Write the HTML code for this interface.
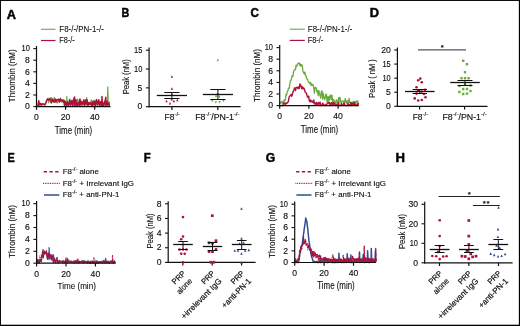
<!DOCTYPE html>
<html lang="en">
<head>
<meta charset="utf-8">
<title>Figure</title>
<style>
html,body{margin:0;padding:0;background:#fff;}
body{width:520px;height:326px;overflow:hidden;position:relative;}
#fig{position:absolute;left:0;top:0;width:520px;height:326px;background:#fff;}
#frame{filter:none;}
svg{position:absolute;left:0;top:0;display:block;}
#plot{filter:blur(0.3px);}
svg text{font-family:"Liberation Sans", sans-serif;stroke:#111;}
</style>
</head>
<body>
<div id="fig"></div>
<svg id="frame" width="520" height="326" viewBox="0 0 520 326">
<rect x="0" y="0" width="520" height="0.95" fill="#000"/>
<rect x="0" y="0" width="0.95" height="326" fill="#000"/>
<rect x="518.85" y="0" width="1.15" height="326" fill="#000"/>
<rect x="0" y="324.7" width="520" height="1.3" fill="#000"/>
</svg>
<svg id="plot" width="520" height="326" viewBox="0 0 520 326">
<text transform="translate(7.10 18.90) scale(1.066 1)" x="-0.24" y="0" font-size="12.0" font-weight="bold" fill="#000" stroke="#000" stroke-width="0.5">A</text>
<text transform="translate(122.20 17.10) scale(0.901 1)" x="-0.72" y="0" font-size="12.0" font-weight="bold" fill="#000" stroke="#000" stroke-width="0.5">B</text>
<text transform="translate(250.90 17.20) scale(0.972 1)" x="-0.48" y="0" font-size="12.0" font-weight="bold" fill="#000" stroke="#000" stroke-width="0.5">C</text>
<text transform="translate(370.60 17.10) scale(1.071 1)" x="-0.72" y="0" font-size="12.0" font-weight="bold" fill="#000" stroke="#000" stroke-width="0.5">D</text>
<text transform="translate(8.10 161.50) scale(0.906 1)" x="-0.72" y="0" font-size="12.0" font-weight="bold" fill="#000" stroke="#000" stroke-width="0.5">E</text>
<text transform="translate(144.30 161.50) scale(0.946 1)" x="-0.72" y="0" font-size="12.0" font-weight="bold" fill="#000" stroke="#000" stroke-width="0.5">F</text>
<text transform="translate(266.10 161.60) scale(1.017 1)" x="-0.48" y="0" font-size="12.0" font-weight="bold" fill="#000" stroke="#000" stroke-width="0.5">G</text>
<text transform="translate(396.30 161.50) scale(1.097 1)" x="-0.72" y="0" font-size="12.0" font-weight="bold" fill="#000" stroke="#000" stroke-width="0.5">H</text>
<polyline points="36.5,106.3 38.0,106.0 38.7,100.8 39.4,104.9 40.0,105.2 40.6,103.7 41.2,103.9 41.7,104.9 42.3,104.4 42.9,104.5 43.5,104.1 44.1,103.8 44.6,105.2 45.2,105.4 46.4,101.4 47.4,99.1 48.1,98.2 48.8,103.0 49.4,98.7 50.1,98.0 50.8,102.7 51.4,98.2 51.8,97.6 52.1,100.8 52.7,101.5 53.4,100.1 54.0,100.9 54.4,97.3 54.7,101.0 55.3,102.0 56.0,100.0 56.7,101.3 57.3,103.2 58.0,99.6 58.6,98.9 59.3,99.4 59.9,101.3 60.6,99.3 61.2,100.7 61.9,102.4 62.5,99.8 63.2,102.1 63.9,100.3 64.5,105.6 65.5,101.0 66.6,105.2 66.8,96.7 67.2,104.9 67.5,101.1 68.3,106.5 69.4,99.0 70.4,105.6 71.2,101.0 72.4,104.6 73.4,99.5 74.3,105.3 75.4,100.7 76.4,105.9 77.4,99.1 78.2,104.6 79.3,99.4 80.4,104.5 81.4,100.8 82.3,106.5 83.4,100.7 84.3,105.3 85.3,101.6 86.2,105.2 86.6,97.6 87.0,104.3 87.2,100.6 88.2,106.5 89.1,102.4 90.1,104.4 91.2,99.8 92.3,105.9 93.4,100.3 94.2,106.6 95.0,100.0 95.9,106.3 96.4,100.2 96.9,101.7 97.8,106.2 98.8,102.4 99.7,104.7 100.6,101.8 101.6,106.5 102.5,101.4 103.4,106.3 104.5,101.0 105.4,105.0 106.5,103.0 107.3,106.2 107.4,103.1 107.8,86.9 108.2,103.7 108.4,102.5 109.4,104.8 109.5,101.4" fill="none" stroke="#6aaa3c" stroke-width="1.2" stroke-linejoin="round" />
<polyline points="36.5,106.3 38.0,106.0 38.7,100.8 39.4,104.9 40.0,103.5 40.6,103.5 41.2,105.3 41.7,105.3 42.3,103.7 42.9,103.9 43.5,104.1 44.1,104.8 44.6,104.2 45.2,104.2 46.4,101.4 47.4,99.1 48.1,99.6 48.8,100.2 49.4,99.3 50.1,98.6 50.8,100.4 51.4,102.9 52.1,101.0 52.7,99.1 53.4,100.3 54.0,102.2 54.7,101.9 55.3,99.0 56.0,101.9 56.7,99.8 57.3,99.5 58.0,100.0 58.6,99.4 59.3,102.3 59.9,100.4 60.5,98.5 60.6,101.1 61.2,99.8 61.9,100.2 62.5,100.1 63.2,101.7 63.9,100.1 64.5,105.3 65.4,101.6 66.4,106.2 67.6,101.9 68.7,105.8 69.9,99.8 70.8,105.2 71.9,100.4 72.8,106.1 73.8,98.7 74.6,97.0 74.8,106.4 75.1,105.4 75.9,99.7 77.0,106.1 78.1,102.8 79.1,105.9 80.0,99.0 80.9,105.2 82.0,102.0 82.9,104.3 83.8,99.8 84.6,105.7 85.5,100.0 86.3,104.1 87.1,99.7 87.9,105.9 89.0,102.4 89.9,104.8 90.8,102.9 92.0,106.2 92.8,101.5 93.8,104.7 94.7,101.5 95.5,105.4 96.6,99.6 97.7,104.6 98.8,99.8 99.8,106.0 100.8,101.6 101.7,105.4 102.0,96.4 102.4,105.4 102.8,102.5 103.8,105.6 104.8,102.4 105.8,97.3 105.9,105.9 106.2,104.9 106.9,101.1 107.7,105.1 108.6,102.9 109.4,106.2" fill="none" stroke="#ad1038" stroke-width="1.45" stroke-linejoin="round" />
<line x1="36.50" y1="46.00" x2="36.50" y2="107.20" stroke="#111" stroke-width="1.2" />
<line x1="35.90" y1="106.60" x2="110.50" y2="106.60" stroke="#111" stroke-width="1.2" />
<line x1="33.30" y1="106.60" x2="36.50" y2="106.60" stroke="#111" stroke-width="1.0999999999999999" />
<text x="29.80" y="109.30" font-size="8.6" text-anchor="end" stroke-width="0.15" fill="#111" >0</text>
<line x1="33.30" y1="95.00" x2="36.50" y2="95.00" stroke="#111" stroke-width="1.0999999999999999" />
<text x="29.80" y="97.70" font-size="8.6" text-anchor="end" stroke-width="0.15" fill="#111" >2</text>
<line x1="33.30" y1="83.40" x2="36.50" y2="83.40" stroke="#111" stroke-width="1.0999999999999999" />
<text x="29.80" y="86.10" font-size="8.6" text-anchor="end" stroke-width="0.15" fill="#111" >4</text>
<line x1="33.30" y1="71.80" x2="36.50" y2="71.80" stroke="#111" stroke-width="1.0999999999999999" />
<text x="29.80" y="74.50" font-size="8.6" text-anchor="end" stroke-width="0.15" fill="#111" >6</text>
<line x1="33.30" y1="60.20" x2="36.50" y2="60.20" stroke="#111" stroke-width="1.0999999999999999" />
<text x="29.80" y="62.90" font-size="8.6" text-anchor="end" stroke-width="0.15" fill="#111" >8</text>
<line x1="33.30" y1="48.60" x2="36.50" y2="48.60" stroke="#111" stroke-width="1.0999999999999999" />
<text x="29.80" y="51.30" font-size="8.6" text-anchor="end" stroke-width="0.15" textLength="8.30" lengthAdjust="spacingAndGlyphs" fill="#111" >10</text>
<line x1="36.50" y1="106.60" x2="36.50" y2="109.80" stroke="#111" stroke-width="1.2" />
<text x="36.50" y="119.80" font-size="8.6" text-anchor="middle" stroke-width="0.15" fill="#111" >0</text>
<line x1="65.60" y1="106.60" x2="65.60" y2="109.80" stroke="#111" stroke-width="1.2" />
<text x="65.60" y="119.80" font-size="8.6" text-anchor="middle" stroke-width="0.15" fill="#111" >20</text>
<line x1="94.70" y1="106.60" x2="94.70" y2="109.80" stroke="#111" stroke-width="1.2" />
<text x="94.70" y="119.80" font-size="8.6" text-anchor="middle" stroke-width="0.15" fill="#111" >40</text>
<text x="73.50" y="133.50" font-size="10.0" text-anchor="middle" stroke-width="0.12" textLength="37.50" lengthAdjust="spacingAndGlyphs" fill="#111" >Time (min)</text>
<text x="15.30" y="75.80" font-size="9.5" text-anchor="middle" stroke-width="0.12" textLength="53.00" lengthAdjust="spacingAndGlyphs" transform="rotate(-90 15.30 75.80)" fill="#111" >Thrombin (nM)</text>
<line x1="41.00" y1="29.30" x2="55.50" y2="29.30" stroke="#6aaa3c" stroke-width="1.1" />
<text x="59.30" y="31.60" font-size="8.3" text-anchor="start" stroke-width="0.08" textLength="44.50" lengthAdjust="spacingAndGlyphs" fill="#111" >F8-/-/PN-1-/-</text>
<line x1="41.00" y1="40.50" x2="55.50" y2="40.50" stroke="#ad1038" stroke-width="1.2" />
<text x="59.30" y="42.80" font-size="8.3" text-anchor="start" stroke-width="0.08" textLength="15.50" lengthAdjust="spacingAndGlyphs" fill="#111" >F8-/-</text>
<line x1="149.10" y1="47.60" x2="149.10" y2="107.30" stroke="#111" stroke-width="1.2" />
<line x1="148.50" y1="106.70" x2="240.60" y2="106.70" stroke="#111" stroke-width="1.2" />
<line x1="145.90" y1="106.70" x2="149.10" y2="106.70" stroke="#111" stroke-width="1.0999999999999999" />
<text x="142.40" y="109.40" font-size="8.6" text-anchor="end" stroke-width="0.15" fill="#111" >0</text>
<line x1="145.90" y1="87.87" x2="149.10" y2="87.87" stroke="#111" stroke-width="1.0999999999999999" />
<text x="142.40" y="90.56" font-size="8.6" text-anchor="end" stroke-width="0.15" fill="#111" >5</text>
<line x1="145.90" y1="69.03" x2="149.10" y2="69.03" stroke="#111" stroke-width="1.0999999999999999" />
<text x="142.40" y="71.73" font-size="8.6" text-anchor="end" stroke-width="0.15" textLength="8.30" lengthAdjust="spacingAndGlyphs" fill="#111" >10</text>
<line x1="145.90" y1="50.20" x2="149.10" y2="50.20" stroke="#111" stroke-width="1.0999999999999999" />
<text x="142.40" y="52.90" font-size="8.6" text-anchor="end" stroke-width="0.15" textLength="8.30" lengthAdjust="spacingAndGlyphs" fill="#111" >15</text>
<line x1="171.90" y1="106.70" x2="171.90" y2="109.90" stroke="#111" stroke-width="1.2" />
<line x1="217.80" y1="106.70" x2="217.80" y2="109.90" stroke="#111" stroke-width="1.2" />
<text x="129.50" y="76.80" font-size="9.5" text-anchor="middle" stroke-width="0.12" textLength="35.00" lengthAdjust="spacingAndGlyphs" transform="rotate(-90 129.50 76.80)" fill="#111" >Peak (nM)</text>
<polygon points="171.90,75.20 170.65,77.70 173.15,77.70" fill="#ad1038"/>
<polygon points="171.90,87.30 170.65,89.80 173.15,89.80" fill="#ad1038"/>
<polygon points="171.90,93.30 170.65,95.80 173.15,95.80" fill="#ad1038"/>
<polygon points="166.50,99.80 165.25,102.30 167.75,102.30" fill="#ad1038"/>
<polygon points="173.80,99.80 172.55,102.30 175.05,102.30" fill="#ad1038"/>
<polygon points="177.30,98.70 176.05,101.20 178.55,101.20" fill="#ad1038"/>
<polygon points="170.00,102.10 168.75,104.60 171.25,104.60" fill="#ad1038"/>
<polygon points="171.70,98.10 170.45,100.60 172.95,100.60" fill="#ad1038"/>
<polygon points="217.80,62.10 216.55,59.60 219.05,59.60" fill="#6aaa3c"/>
<polygon points="217.70,95.50 216.45,93.00 218.95,93.00" fill="#6aaa3c"/>
<polygon points="216.00,98.00 214.75,95.50 217.25,95.50" fill="#6aaa3c"/>
<polygon points="219.30,98.20 218.05,95.70 220.55,95.70" fill="#6aaa3c"/>
<polygon points="212.30,102.30 211.05,99.80 213.55,99.80" fill="#6aaa3c"/>
<polygon points="215.80,103.80 214.55,101.30 217.05,101.30" fill="#6aaa3c"/>
<polygon points="219.60,103.40 218.35,100.90 220.85,100.90" fill="#6aaa3c"/>
<polygon points="223.50,102.30 222.25,99.80 224.75,99.80" fill="#6aaa3c"/>
<line x1="156.80" y1="95.50" x2="187.00" y2="95.50" stroke="#111" stroke-width="1.3" />
<line x1="164.30" y1="92.50" x2="179.50" y2="92.50" stroke="#111" stroke-width="1.0" />
<line x1="164.30" y1="98.50" x2="179.50" y2="98.50" stroke="#111" stroke-width="1.0" />
<line x1="171.90" y1="92.50" x2="171.90" y2="98.50" stroke="#111" stroke-width="1.0" />
<line x1="202.80" y1="94.50" x2="233.00" y2="94.50" stroke="#111" stroke-width="1.3" />
<line x1="210.30" y1="89.50" x2="225.50" y2="89.50" stroke="#111" stroke-width="1.0" />
<line x1="210.30" y1="99.50" x2="225.50" y2="99.50" stroke="#111" stroke-width="1.0" />
<line x1="217.90" y1="89.50" x2="217.90" y2="99.50" stroke="#111" stroke-width="1.0" />
<text x="172.30" y="119.50" font-size="8.5" text-anchor="middle" stroke-width="0.15" textLength="15.40" lengthAdjust="spacingAndGlyphs" fill="#111" ><tspan>F8</tspan><tspan font-size="5.95" dy="-3.40">-/-</tspan></text>
<text x="217.40" y="119.50" font-size="8.5" text-anchor="middle" stroke-width="0.15" textLength="44.40" lengthAdjust="spacingAndGlyphs" fill="#111" ><tspan>F8</tspan><tspan font-size="5.95" dy="-3.40">-/-</tspan><tspan dy="3.40">/PN-1</tspan><tspan font-size="5.95" dy="-3.40">-/-</tspan></text>
<polyline points="279.7,103.9 280.3,102.3 281.0,103.0 281.6,101.7 282.2,101.4 282.9,103.9 283.5,104.0 284.1,99.9 284.7,101.0 285.4,99.6 286.0,94.5 286.6,95.1 287.3,91.4 287.9,91.0 288.5,88.1 289.2,88.3 289.8,84.0 290.4,80.8 291.1,80.4 291.7,77.3 292.3,75.6 292.9,76.5 293.6,71.3 294.2,70.1 294.8,69.4 295.5,69.6 296.1,65.1 296.7,66.3 297.4,64.6 298.0,63.2 298.6,63.5 299.3,62.9 299.9,65.7 300.5,64.1 301.1,66.2 301.8,64.6 302.4,66.4 303.0,71.5 303.7,72.8 304.3,74.0 304.9,72.0 305.6,75.8 306.2,76.1 306.8,78.9 307.5,79.2 308.1,81.0 308.7,82.5 309.3,82.5 310.0,83.9 310.6,82.5 311.2,85.6 311.9,84.0 312.5,85.3 313.1,84.7 313.8,88.1 314.4,93.1 315.0,87.6 315.7,87.3 316.3,88.4 316.9,91.8 317.5,90.9 318.2,95.6 318.8,90.5 319.4,93.1 320.1,95.9 320.7,98.2 321.3,91.7 322.0,90.8 322.6,99.0 323.2,93.1 323.9,96.9 324.5,99.5 325.1,98.5 325.7,94.7 326.4,94.1 327.0,101.6 327.6,96.9 328.3,102.1 328.9,96.5 329.5,100.1 330.2,95.6 330.8,95.0 331.4,99.4 332.0,95.4 332.7,101.7 333.3,103.9 333.9,99.4 334.6,104.5 335.2,103.2 335.8,101.4 336.5,99.8 337.1,103.9 337.7,105.0 338.4,97.9 339.0,102.8 339.6,97.4 340.2,98.0 340.9,102.6 341.5,102.0 342.1,101.6 342.8,100.7 343.4,101.2 344.0,101.6 344.7,101.2 345.3,98.6 345.9,102.4 346.6,103.0 347.2,100.5 347.8,104.7 348.4,104.2 349.1,98.3 349.7,102.3 350.3,102.1 351.0,105.6 351.6,103.3 352.2,101.9 352.9,105.6 353.5,101.6 354.1,101.5 354.8,105.6 355.4,101.5 356.0,102.9 356.6,101.1 357.3,104.0 357.9,100.9 358.5,100.6" fill="none" stroke="#6aaa3c" stroke-width="1.3" stroke-linejoin="round" />
<polyline points="279.7,105.6 280.3,105.6 281.0,105.6 281.6,105.6 282.2,105.6 282.9,105.6 283.5,103.1 284.1,103.6 284.7,103.1 285.4,105.0 286.0,102.9 286.6,103.4 287.3,103.0 287.9,102.3 288.5,100.9 289.2,96.7 289.8,96.2 290.4,95.4 291.1,94.5 291.7,96.3 292.3,94.7 292.9,92.2 293.6,90.6 294.2,89.0 294.8,87.8 295.5,90.6 296.1,87.8 296.7,87.1 297.4,87.5 298.0,88.7 298.6,86.9 299.3,88.3 299.9,84.0 300.5,84.6 301.1,86.8 301.8,88.7 302.4,86.6 303.0,88.8 303.7,88.1 304.3,89.0 304.9,91.3 305.6,92.6 306.2,92.8 306.8,94.7 307.5,97.0 308.1,97.4 308.7,96.1 309.3,100.8 310.0,101.8 310.6,99.9 311.2,101.9 311.9,101.0 312.5,101.6 313.1,102.6 313.8,99.9 314.4,103.9 315.0,103.2 315.7,104.4 316.3,102.5 316.9,104.3 317.5,104.1 318.2,102.5 318.8,104.3 319.4,103.5 320.1,102.2 320.7,105.6 321.3,105.6 322.0,105.3 322.6,103.2 323.2,103.9 323.9,105.5 324.5,105.1 325.1,105.6 325.7,104.6 326.4,105.6 327.0,103.6 327.6,102.8 328.3,102.6 328.9,103.5 329.5,102.6 330.2,105.6 330.8,105.3 331.4,102.5 332.0,103.3 332.7,104.8 333.3,102.6 333.9,104.0 334.6,103.1 335.2,105.3 335.8,105.6 336.5,104.7 337.1,105.6 337.7,104.9 338.4,102.6 339.0,105.1 339.6,105.6 340.2,105.6 340.9,105.6 341.5,103.3 342.1,105.0 342.8,105.3 343.4,105.6 344.0,102.5 344.7,104.7 345.3,105.6 345.9,105.6 346.6,105.6 347.2,105.6 347.8,103.7 348.4,105.6 349.1,105.6 349.7,104.5 350.3,105.5 351.0,102.4 351.6,105.6 352.2,104.3 352.9,103.3 353.5,104.8 354.1,102.5 354.8,104.5 355.4,105.5 356.0,104.8 356.6,105.6 357.3,104.8 357.9,105.5 358.5,102.9" fill="none" stroke="#ad1038" stroke-width="1.4" stroke-linejoin="round" />
<line x1="279.70" y1="45.00" x2="279.70" y2="106.20" stroke="#111" stroke-width="1.2" />
<line x1="279.10" y1="105.60" x2="358.60" y2="105.60" stroke="#111" stroke-width="1.2" />
<line x1="276.50" y1="105.60" x2="279.70" y2="105.60" stroke="#111" stroke-width="1.0999999999999999" />
<text x="273.00" y="108.30" font-size="8.6" text-anchor="end" stroke-width="0.15" fill="#111" >0</text>
<line x1="276.50" y1="94.00" x2="279.70" y2="94.00" stroke="#111" stroke-width="1.0999999999999999" />
<text x="273.00" y="96.70" font-size="8.6" text-anchor="end" stroke-width="0.15" fill="#111" >2</text>
<line x1="276.50" y1="82.40" x2="279.70" y2="82.40" stroke="#111" stroke-width="1.0999999999999999" />
<text x="273.00" y="85.10" font-size="8.6" text-anchor="end" stroke-width="0.15" fill="#111" >4</text>
<line x1="276.50" y1="70.80" x2="279.70" y2="70.80" stroke="#111" stroke-width="1.0999999999999999" />
<text x="273.00" y="73.50" font-size="8.6" text-anchor="end" stroke-width="0.15" fill="#111" >6</text>
<line x1="276.50" y1="59.20" x2="279.70" y2="59.20" stroke="#111" stroke-width="1.0999999999999999" />
<text x="273.00" y="61.90" font-size="8.6" text-anchor="end" stroke-width="0.15" fill="#111" >8</text>
<line x1="276.50" y1="47.60" x2="279.70" y2="47.60" stroke="#111" stroke-width="1.0999999999999999" />
<text x="273.00" y="50.30" font-size="8.6" text-anchor="end" stroke-width="0.15" textLength="8.30" lengthAdjust="spacingAndGlyphs" fill="#111" >10</text>
<line x1="279.70" y1="105.60" x2="279.70" y2="108.80" stroke="#111" stroke-width="1.2" />
<text x="279.70" y="119.00" font-size="8.6" text-anchor="middle" stroke-width="0.15" fill="#111" >0</text>
<line x1="308.90" y1="105.60" x2="308.90" y2="108.80" stroke="#111" stroke-width="1.2" />
<text x="308.90" y="119.00" font-size="8.6" text-anchor="middle" stroke-width="0.15" fill="#111" >20</text>
<line x1="338.10" y1="105.60" x2="338.10" y2="108.80" stroke="#111" stroke-width="1.2" />
<text x="338.10" y="119.00" font-size="8.6" text-anchor="middle" stroke-width="0.15" fill="#111" >40</text>
<text x="319.50" y="133.20" font-size="10.0" text-anchor="middle" stroke-width="0.12" textLength="37.50" lengthAdjust="spacingAndGlyphs" fill="#111" >Time (min)</text>
<text x="260.00" y="75.50" font-size="9.5" text-anchor="middle" stroke-width="0.12" textLength="53.00" lengthAdjust="spacingAndGlyphs" transform="rotate(-90 260.00 75.50)" fill="#111" >Thrombin (nM)</text>
<line x1="289.70" y1="29.20" x2="304.80" y2="29.20" stroke="#6aaa3c" stroke-width="1.1" />
<text x="307.80" y="31.50" font-size="8.3" text-anchor="start" stroke-width="0.08" textLength="44.50" lengthAdjust="spacingAndGlyphs" fill="#111" >F8-/-/PN-1-/-</text>
<line x1="289.70" y1="40.40" x2="304.80" y2="40.40" stroke="#ad1038" stroke-width="1.2" />
<text x="307.80" y="42.80" font-size="8.3" text-anchor="start" stroke-width="0.08" textLength="15.50" lengthAdjust="spacingAndGlyphs" fill="#111" >F8-/-</text>
<line x1="397.40" y1="47.40" x2="397.40" y2="106.90" stroke="#111" stroke-width="1.2" />
<line x1="396.80" y1="106.30" x2="487.50" y2="106.30" stroke="#111" stroke-width="1.2" />
<line x1="394.20" y1="106.30" x2="397.40" y2="106.30" stroke="#111" stroke-width="1.0999999999999999" />
<text x="390.70" y="109.00" font-size="8.6" text-anchor="end" stroke-width="0.15" fill="#111" >0</text>
<line x1="394.20" y1="92.22" x2="397.40" y2="92.22" stroke="#111" stroke-width="1.0999999999999999" />
<text x="390.70" y="94.92" font-size="8.6" text-anchor="end" stroke-width="0.15" fill="#111" >5</text>
<line x1="394.20" y1="78.15" x2="397.40" y2="78.15" stroke="#111" stroke-width="1.0999999999999999" />
<text x="390.70" y="80.85" font-size="8.6" text-anchor="end" stroke-width="0.15" textLength="8.30" lengthAdjust="spacingAndGlyphs" fill="#111" >10</text>
<line x1="394.20" y1="64.08" x2="397.40" y2="64.08" stroke="#111" stroke-width="1.0999999999999999" />
<text x="390.70" y="66.77" font-size="8.6" text-anchor="end" stroke-width="0.15" textLength="8.30" lengthAdjust="spacingAndGlyphs" fill="#111" >15</text>
<line x1="394.20" y1="50.00" x2="397.40" y2="50.00" stroke="#111" stroke-width="1.0999999999999999" />
<text x="390.70" y="52.70" font-size="8.6" text-anchor="end" stroke-width="0.15" fill="#111" >20</text>
<line x1="419.60" y1="106.30" x2="419.60" y2="109.50" stroke="#111" stroke-width="1.2" />
<line x1="464.60" y1="106.30" x2="464.60" y2="109.50" stroke="#111" stroke-width="1.2" />
<text x="375.30" y="78.50" font-size="9.5" text-anchor="middle" stroke-width="0.12" textLength="38.50" lengthAdjust="spacingAndGlyphs" transform="rotate(-90 375.30 78.50)" fill="#111" >Peak ( nM )</text>
<circle cx="420.30" cy="78.60" r="1.3" fill="#ad1038"/>
<circle cx="418.20" cy="80.30" r="1.3" fill="#ad1038"/>
<circle cx="421.80" cy="82.30" r="1.3" fill="#ad1038"/>
<circle cx="416.50" cy="87.20" r="1.3" fill="#ad1038"/>
<circle cx="425.00" cy="89.80" r="1.3" fill="#ad1038"/>
<circle cx="418.20" cy="90.40" r="1.3" fill="#ad1038"/>
<circle cx="421.80" cy="91.50" r="1.3" fill="#ad1038"/>
<circle cx="416.50" cy="93.60" r="1.3" fill="#ad1038"/>
<circle cx="424.00" cy="94.00" r="1.3" fill="#ad1038"/>
<circle cx="414.70" cy="98.40" r="1.3" fill="#ad1038"/>
<circle cx="425.50" cy="97.30" r="1.3" fill="#ad1038"/>
<circle cx="418.20" cy="100.50" r="1.3" fill="#ad1038"/>
<circle cx="421.80" cy="100.00" r="1.3" fill="#ad1038"/>
<rect x="462.00" y="59.60" width="2.4" height="2.4" fill="#6aaa3c"/>
<rect x="465.70" y="63.00" width="2.4" height="2.4" fill="#6aaa3c"/>
<rect x="463.80" y="71.00" width="2.4" height="2.4" fill="#6aaa3c"/>
<rect x="460.30" y="77.00" width="2.4" height="2.4" fill="#6aaa3c"/>
<rect x="463.80" y="77.00" width="2.4" height="2.4" fill="#6aaa3c"/>
<rect x="467.40" y="77.00" width="2.4" height="2.4" fill="#6aaa3c"/>
<rect x="463.80" y="83.40" width="2.4" height="2.4" fill="#6aaa3c"/>
<rect x="469.30" y="84.30" width="2.4" height="2.4" fill="#6aaa3c"/>
<rect x="458.20" y="84.80" width="2.4" height="2.4" fill="#6aaa3c"/>
<rect x="462.00" y="87.80" width="2.4" height="2.4" fill="#6aaa3c"/>
<rect x="465.80" y="87.80" width="2.4" height="2.4" fill="#6aaa3c"/>
<rect x="458.20" y="90.80" width="2.4" height="2.4" fill="#6aaa3c"/>
<rect x="469.30" y="89.80" width="2.4" height="2.4" fill="#6aaa3c"/>
<rect x="462.00" y="92.80" width="2.4" height="2.4" fill="#6aaa3c"/>
<rect x="465.80" y="92.40" width="2.4" height="2.4" fill="#6aaa3c"/>
<line x1="405.00" y1="91.50" x2="434.60" y2="91.50" stroke="#111" stroke-width="1.3" />
<line x1="412.60" y1="89.50" x2="427.00" y2="89.50" stroke="#111" stroke-width="1.0" />
<line x1="412.60" y1="93.50" x2="427.00" y2="93.50" stroke="#111" stroke-width="1.0" />
<line x1="419.80" y1="89.50" x2="419.80" y2="93.50" stroke="#111" stroke-width="1.0" />
<line x1="450.20" y1="82.50" x2="479.80" y2="82.50" stroke="#111" stroke-width="1.3" />
<line x1="457.50" y1="80.50" x2="472.50" y2="80.50" stroke="#111" stroke-width="1.0" />
<line x1="457.50" y1="85.50" x2="472.50" y2="85.50" stroke="#111" stroke-width="1.0" />
<line x1="465.00" y1="80.50" x2="465.00" y2="85.50" stroke="#111" stroke-width="1.0" />
<line x1="418.00" y1="49.90" x2="466.00" y2="49.90" stroke="#555" stroke-width="1.3" />
<text x="442.20" y="50.00" font-size="7.8" text-anchor="middle" stroke-width="0.25" fill="#111" >*</text>
<text x="420.40" y="119.50" font-size="8.5" text-anchor="middle" stroke-width="0.15" textLength="15.40" lengthAdjust="spacingAndGlyphs" fill="#111" ><tspan>F8</tspan><tspan font-size="5.95" dy="-3.40">-/-</tspan></text>
<text x="464.60" y="119.50" font-size="8.5" text-anchor="middle" stroke-width="0.15" textLength="44.40" lengthAdjust="spacingAndGlyphs" fill="#111" ><tspan>F8</tspan><tspan font-size="5.95" dy="-3.40">-/-</tspan><tspan dy="3.40">/PN-1</tspan><tspan font-size="5.95" dy="-3.40">-/-</tspan></text>
<polyline points="36.6,263.2 37.8,259.3 39.1,263.2 40.4,259.9 41.4,261.8 42.5,251.7 43.3,256.4 44.2,251.4 45.2,253.7 46.1,252.5 47.4,258.5 48.2,253.1 48.7,257.8 49.0,259.6 49.1,247.7 49.5,258.4 49.8,257.5 51.1,259.2 51.9,254.7 53.1,260.2 53.2,260.8 53.5,254.9 53.9,260.8 54.5,258.1 55.6,261.8 56.9,258.7 58.2,263.2 59.1,261.1 60.0,262.0 60.7,261.2 61.8,261.8 63.0,261.2 63.9,263.1 64.9,261.2 65.9,262.9 66.7,260.2 67.4,263.0 67.5,258.4 68.6,261.8 69.8,262.4 70.9,261.8 71.7,262.1 73.0,261.5 74.2,263.2 75.5,261.3 76.4,262.7 77.6,261.7 78.8,263.2 80.0,261.8 81.3,262.0 82.3,260.9 83.6,262.5 84.9,261.0 85.8,262.4 86.6,261.8 87.4,263.1 88.7,261.7 89.5,263.2 90.5,261.3 91.4,262.9 92.6,261.2 93.6,262.1 94.9,261.9 95.9,263.2 96.7,260.8 98.0,263.1 99.3,261.8 100.2,262.3 101.5,261.5 102.5,263.2 103.7,260.4 104.7,262.9 105.7,258.4 105.9,261.3 106.8,262.7 107.6,261.4 108.9,263.2 110.0,261.3 111.0,262.2 111.9,260.8 113.1,262.7 114.3,260.8 115.5,263.2" fill="none" stroke="#2f4f8f" stroke-width="1.2" stroke-linejoin="round" />
<polyline points="36.6,263.2 37.9,261.9 39.1,262.3 39.9,255.9 40.8,262.2 41.8,254.8 42.8,256.0 44.1,253.3 44.9,253.8 45.8,251.7 47.1,256.7 47.9,254.8 49.2,257.5 50.3,256.0 51.4,260.1 52.6,256.9 53.7,263.2 54.8,259.8 55.5,263.2 56.6,260.5 57.9,262.7 59.0,260.3 59.9,262.3 61.2,261.5 62.4,261.9 63.5,260.6 64.8,263.2 65.9,261.4 66.7,262.7 67.7,261.7 69.0,262.6 70.2,261.4 71.0,261.8 72.0,261.4 72.9,262.5 74.2,260.3 75.0,262.5 75.8,260.7 77.2,262.2 78.3,261.4 79.1,263.1 80.0,261.6 81.0,262.3 82.0,261.1 82.9,262.9 83.8,261.7 84.6,262.1 85.7,261.3 86.9,262.8 88.0,260.3 88.8,262.0 89.6,261.3 90.7,263.2 91.6,260.3 92.3,263.2 93.2,260.5 93.9,263.2 95.1,260.3 96.2,262.3 97.5,261.3 98.3,263.0 99.3,261.2 100.1,262.2 101.2,261.3 102.0,262.8 103.2,260.8 104.2,262.7 105.1,261.7 106.0,262.8 106.8,260.9 107.9,263.1 108.6,261.5 109.6,262.2 111.0,260.8 112.0,263.2 112.8,261.7 113.9,263.2 115.0,262.1" fill="none" stroke="#ad1038" stroke-width="1.1" stroke-linejoin="round" stroke-dasharray="0.9 0.9"/>
<polyline points="36.6,263.2 37.8,260.3 38.7,262.3 39.8,258.6 41.0,260.4 42.2,254.7 42.6,257.2 43.1,248.6 43.4,257.8 43.5,256.1 44.4,251.1 45.6,254.6 46.6,250.5 47.5,259.3 48.6,252.8 49.6,257.8 50.8,254.3 51.8,259.2 52.6,256.2 53.5,263.2 54.6,259.5 55.7,262.7 57.0,257.3 58.1,262.8 59.2,260.4 60.5,261.8 61.5,260.7 62.4,262.7 63.2,260.3 64.2,262.0 65.3,261.3 66.0,257.8 66.2,262.6 67.0,261.4 68.2,263.0 69.0,260.5 69.7,262.4 71.0,260.8 71.9,262.4 72.9,261.6 74.2,261.9 75.2,260.6 76.1,263.2 77.0,260.2 77.8,258.4 78.3,263.0 79.6,261.1 80.8,263.2 81.8,261.1 83.0,262.6 83.8,260.7 84.6,262.7 85.8,261.6 86.6,262.1 87.7,261.3 88.5,262.7 89.8,261.5 90.8,263.2 91.9,261.5 92.9,262.8 93.7,261.3 93.9,257.8 94.6,263.2 95.6,260.9 96.9,263.2 97.8,261.0 98.7,262.7 99.8,260.7 101.1,262.5 101.8,261.3 102.5,262.1 103.7,261.9 104.9,262.7 106.2,260.6 107.0,262.4 108.3,261.1 109.3,263.2 110.5,261.3 111.5,262.3 112.0,261.4 112.4,261.9 112.5,255.5 112.9,262.0 113.5,263.1 114.3,261.1 115.1,262.3" fill="none" stroke="#ad1038" stroke-width="1.2" stroke-linejoin="round" stroke-dasharray="3.3 1.6"/>
<line x1="36.60" y1="201.10" x2="36.60" y2="263.80" stroke="#111" stroke-width="1.2" />
<line x1="36.00" y1="263.20" x2="115.60" y2="263.20" stroke="#111" stroke-width="1.2" />
<line x1="33.40" y1="263.20" x2="36.60" y2="263.20" stroke="#111" stroke-width="1.0999999999999999" />
<text x="29.90" y="265.90" font-size="8.6" text-anchor="end" stroke-width="0.15" fill="#111" >0</text>
<line x1="33.40" y1="251.30" x2="36.60" y2="251.30" stroke="#111" stroke-width="1.0999999999999999" />
<text x="29.90" y="254.00" font-size="8.6" text-anchor="end" stroke-width="0.15" fill="#111" >2</text>
<line x1="33.40" y1="239.40" x2="36.60" y2="239.40" stroke="#111" stroke-width="1.0999999999999999" />
<text x="29.90" y="242.10" font-size="8.6" text-anchor="end" stroke-width="0.15" fill="#111" >4</text>
<line x1="33.40" y1="227.50" x2="36.60" y2="227.50" stroke="#111" stroke-width="1.0999999999999999" />
<text x="29.90" y="230.20" font-size="8.6" text-anchor="end" stroke-width="0.15" fill="#111" >6</text>
<line x1="33.40" y1="215.60" x2="36.60" y2="215.60" stroke="#111" stroke-width="1.0999999999999999" />
<text x="29.90" y="218.30" font-size="8.6" text-anchor="end" stroke-width="0.15" fill="#111" >8</text>
<line x1="33.40" y1="203.70" x2="36.60" y2="203.70" stroke="#111" stroke-width="1.0999999999999999" />
<text x="29.90" y="206.40" font-size="8.6" text-anchor="end" stroke-width="0.15" textLength="8.30" lengthAdjust="spacingAndGlyphs" fill="#111" >10</text>
<line x1="36.60" y1="263.20" x2="36.60" y2="266.40" stroke="#111" stroke-width="1.2" />
<text x="36.60" y="277.00" font-size="8.6" text-anchor="middle" stroke-width="0.15" fill="#111" >0</text>
<line x1="66.00" y1="263.20" x2="66.00" y2="266.40" stroke="#111" stroke-width="1.2" />
<text x="66.00" y="277.00" font-size="8.6" text-anchor="middle" stroke-width="0.15" fill="#111" >20</text>
<line x1="95.40" y1="263.20" x2="95.40" y2="266.40" stroke="#111" stroke-width="1.2" />
<text x="95.40" y="277.00" font-size="8.6" text-anchor="middle" stroke-width="0.15" fill="#111" >40</text>
<text x="76.70" y="288.80" font-size="8.2" text-anchor="middle" stroke-width="0.1" textLength="38.30" lengthAdjust="spacingAndGlyphs" fill="#111" >Time (min)</text>
<text x="15.30" y="231.50" font-size="9.5" text-anchor="middle" stroke-width="0.12" textLength="53.00" lengthAdjust="spacingAndGlyphs" transform="rotate(-90 15.30 231.50)" fill="#111" >Thrombin (nM)</text>
<line x1="43.70" y1="171.70" x2="58.80" y2="171.70" stroke="#ad1038" stroke-width="1.4" stroke-dasharray="3.3 2.45"/>
<text x="62.80" y="174.10" font-size="7.8" text-anchor="start" stroke-width="0.15" textLength="36.00" lengthAdjust="spacingAndGlyphs" fill="#111" ><tspan>F8</tspan><tspan font-size="5.46" dy="-3.12">-/-</tspan><tspan dy="3.12"> alone</tspan></text>
<line x1="43.10" y1="183.40" x2="60.10" y2="183.40" stroke="#ad1038" stroke-width="1.1" stroke-dasharray="0.9 0.85"/>
<text x="62.80" y="185.90" font-size="7.8" text-anchor="start" stroke-width="0.15" textLength="71.20" lengthAdjust="spacingAndGlyphs" fill="#111" ><tspan>F8</tspan><tspan font-size="5.46" dy="-3.12">-/-</tspan><tspan dy="3.12"> + Irrelevant IgG</tspan></text>
<line x1="44.00" y1="195.00" x2="59.30" y2="195.00" stroke="#2f4f8f" stroke-width="1.5" />
<text x="62.80" y="197.40" font-size="7.8" text-anchor="start" stroke-width="0.15" textLength="56.60" lengthAdjust="spacingAndGlyphs" fill="#111" ><tspan>F8</tspan><tspan font-size="5.46" dy="-3.12">-/-</tspan><tspan dy="3.12"> + anti-PN-1</tspan></text>
<line x1="168.20" y1="201.20" x2="168.20" y2="263.00" stroke="#111" stroke-width="1.2" />
<line x1="167.60" y1="262.40" x2="255.60" y2="262.40" stroke="#111" stroke-width="1.2" />
<line x1="165.00" y1="262.40" x2="168.20" y2="262.40" stroke="#111" stroke-width="1.0999999999999999" />
<text x="161.50" y="265.10" font-size="8.6" text-anchor="end" stroke-width="0.15" fill="#111" >0</text>
<line x1="165.00" y1="247.75" x2="168.20" y2="247.75" stroke="#111" stroke-width="1.0999999999999999" />
<text x="161.50" y="250.45" font-size="8.6" text-anchor="end" stroke-width="0.15" fill="#111" >2</text>
<line x1="165.00" y1="233.10" x2="168.20" y2="233.10" stroke="#111" stroke-width="1.0999999999999999" />
<text x="161.50" y="235.80" font-size="8.6" text-anchor="end" stroke-width="0.15" fill="#111" >4</text>
<line x1="165.00" y1="218.45" x2="168.20" y2="218.45" stroke="#111" stroke-width="1.0999999999999999" />
<text x="161.50" y="221.15" font-size="8.6" text-anchor="end" stroke-width="0.15" fill="#111" >6</text>
<line x1="165.00" y1="203.80" x2="168.20" y2="203.80" stroke="#111" stroke-width="1.0999999999999999" />
<text x="161.50" y="206.50" font-size="8.6" text-anchor="end" stroke-width="0.15" fill="#111" >8</text>
<line x1="182.80" y1="262.40" x2="182.80" y2="265.60" stroke="#111" stroke-width="1.2" />
<line x1="212.20" y1="262.40" x2="212.20" y2="265.60" stroke="#111" stroke-width="1.2" />
<line x1="241.60" y1="262.40" x2="241.60" y2="265.60" stroke="#111" stroke-width="1.2" />
<text x="152.50" y="231.00" font-size="9.5" text-anchor="middle" stroke-width="0.12" textLength="35.00" lengthAdjust="spacingAndGlyphs" transform="rotate(-90 152.50 231.00)" fill="#111" >Peak (nM)</text>
<circle cx="183.00" cy="217.10" r="1.3" fill="#ad1038"/>
<circle cx="183.00" cy="236.50" r="1.3" fill="#ad1038"/>
<circle cx="181.20" cy="239.20" r="1.3" fill="#ad1038"/>
<circle cx="179.50" cy="249.50" r="1.3" fill="#ad1038"/>
<circle cx="183.00" cy="249.50" r="1.3" fill="#ad1038"/>
<circle cx="186.40" cy="249.50" r="1.3" fill="#ad1038"/>
<circle cx="181.20" cy="253.70" r="1.3" fill="#ad1038"/>
<circle cx="184.70" cy="253.70" r="1.3" fill="#ad1038"/>
<circle cx="183.00" cy="262.20" r="1.3" fill="#ad1038"/>
<rect x="210.95" y="214.35" width="2.7" height="2.7" fill="#ad1038"/>
<rect x="214.65" y="239.35" width="2.7" height="2.7" fill="#ad1038"/>
<rect x="207.75" y="241.45" width="2.7" height="2.7" fill="#ad1038"/>
<rect x="211.15" y="241.85" width="2.7" height="2.7" fill="#ad1038"/>
<rect x="214.65" y="248.15" width="2.7" height="2.7" fill="#ad1038"/>
<rect x="207.75" y="250.25" width="2.7" height="2.7" fill="#ad1038"/>
<rect x="211.15" y="250.25" width="2.7" height="2.7" fill="#ad1038"/>
<rect x="209.45" y="260.85" width="2.7" height="2.7" fill="#ad1038"/>
<rect x="212.55" y="260.85" width="2.7" height="2.7" fill="#ad1038"/>
<polygon points="241.50,207.24 240.20,209.84 242.80,209.84" fill="#2f4f8f"/>
<polygon points="241.50,237.04 240.20,239.64 242.80,239.64" fill="#2f4f8f"/>
<polygon points="239.60,242.24 238.30,244.84 240.90,244.84" fill="#2f4f8f"/>
<polygon points="243.60,241.24 242.30,243.84 244.90,243.84" fill="#2f4f8f"/>
<polygon points="234.80,249.14 233.50,251.74 236.10,251.74" fill="#2f4f8f"/>
<polygon points="238.00,249.14 236.70,251.74 239.30,251.74" fill="#2f4f8f"/>
<polygon points="245.20,249.14 243.90,251.74 246.50,251.74" fill="#2f4f8f"/>
<polygon points="248.80,248.54 247.50,251.14 250.10,251.14" fill="#2f4f8f"/>
<polygon points="241.50,252.14 240.20,254.74 242.80,254.74" fill="#2f4f8f"/>
<polygon points="241.50,261.04 240.20,263.64 242.80,263.64" fill="#2f4f8f"/>
<line x1="173.20" y1="244.50" x2="192.80" y2="244.50" stroke="#111" stroke-width="1.3" />
<line x1="178.20" y1="241.50" x2="187.80" y2="241.50" stroke="#111" stroke-width="1.0" />
<line x1="178.20" y1="249.50" x2="187.80" y2="249.50" stroke="#111" stroke-width="1.0" />
<line x1="183.00" y1="241.50" x2="183.00" y2="249.50" stroke="#111" stroke-width="1.0" />
<line x1="202.80" y1="246.50" x2="222.20" y2="246.50" stroke="#111" stroke-width="1.3" />
<line x1="207.70" y1="242.50" x2="217.30" y2="242.50" stroke="#111" stroke-width="1.0" />
<line x1="207.70" y1="250.50" x2="217.30" y2="250.50" stroke="#111" stroke-width="1.0" />
<line x1="212.50" y1="242.50" x2="212.50" y2="250.50" stroke="#111" stroke-width="1.0" />
<line x1="231.80" y1="244.50" x2="251.60" y2="244.50" stroke="#111" stroke-width="1.3" />
<line x1="236.90" y1="240.50" x2="246.50" y2="240.50" stroke="#111" stroke-width="1.0" />
<line x1="236.90" y1="249.50" x2="246.50" y2="249.50" stroke="#111" stroke-width="1.0" />
<line x1="241.70" y1="240.50" x2="241.70" y2="249.50" stroke="#111" stroke-width="1.0" />
<text x="186.00" y="273.90" font-size="8.0" text-anchor="end" stroke-width="0.2" textLength="15.40" lengthAdjust="spacingAndGlyphs" transform="rotate(-45 186.00 273.90)" fill="#111" >PRP</text>
<text x="192.80" y="281.60" font-size="8.0" text-anchor="end" stroke-width="0.2" textLength="18.60" lengthAdjust="spacingAndGlyphs" transform="rotate(-45 192.80 281.60)" fill="#111" >alone</text>
<text x="215.40" y="273.90" font-size="8.0" text-anchor="end" stroke-width="0.2" textLength="15.40" lengthAdjust="spacingAndGlyphs" transform="rotate(-45 215.40 273.90)" fill="#111" >PRP</text>
<text x="222.20" y="281.60" font-size="8.0" text-anchor="end" stroke-width="0.2" textLength="53.50" lengthAdjust="spacingAndGlyphs" transform="rotate(-45 222.20 281.60)" fill="#111" >+irrelevant IgG</text>
<text x="244.80" y="273.90" font-size="8.0" text-anchor="end" stroke-width="0.2" textLength="15.40" lengthAdjust="spacingAndGlyphs" transform="rotate(-45 244.80 273.90)" fill="#111" >PRP</text>
<text x="251.60" y="281.60" font-size="8.0" text-anchor="end" stroke-width="0.2" textLength="38.00" lengthAdjust="spacingAndGlyphs" transform="rotate(-45 251.60 281.60)" fill="#111" >+anti-PN-1</text>
<polyline points="294.7,262.5 295.2,262.1 296.0,262.1 296.5,261.4 297.0,262.4 297.6,262.0 298.2,262.5 298.7,261.4 299.2,259.2 299.7,255.4 300.4,250.7 301.1,246.4 301.8,246.4 302.3,243.9 302.9,239.1 303.4,235.0 303.9,231.7 304.6,226.4 305.3,222.0 305.7,218.0 306.3,220.2 306.9,221.6 307.3,225.7 307.8,229.2 308.5,236.5 308.9,240.2 309.5,244.6 310.0,246.9 310.7,252.0 311.2,254.6 311.7,257.2 312.2,257.9 312.9,260.9 313.5,261.5 314.0,262.1 314.7,261.2 315.2,262.4 315.9,261.8 316.6,261.9 317.1,261.4 317.7,262.5 318.2,261.7 318.9,262.5 319.5,261.0 320.1,261.9 320.2,262.5 320.6,256.1 320.6,260.0 321.0,261.9 321.2,262.5 321.7,260.8 322.2,262.1 322.8,261.6 323.5,261.9 324.2,259.9 324.8,262.5 325.3,260.1 325.8,262.3 326.6,260.8 327.1,262.5 327.7,260.2 328.1,262.5 328.6,261.6 329.4,262.1 330.1,259.3 330.8,261.7 331.2,261.1 331.8,262.5 332.5,260.8 333.0,262.5 333.4,261.4 334.0,262.5 334.5,260.5 335.1,262.5 335.7,259.4 336.1,262.5 336.8,259.4 337.4,261.7 337.8,260.2 338.3,262.5 338.5,261.3 338.8,259.6 338.9,253.2 339.3,261.4 339.4,261.3 339.7,260.3 340.3,262.3 340.8,260.2 341.6,262.5 342.3,261.3 343.1,262.5 343.7,260.1 344.3,262.5 344.7,259.8 345.3,262.0 346.0,259.6 346.4,262.5 346.7,261.3 347.0,260.1 347.2,253.8 347.6,261.3 347.6,261.3 348.2,260.3 349.0,261.7 349.7,259.4 350.3,262.5 350.4,261.9 350.7,259.7 350.9,254.9 351.3,261.3 351.4,262.5 351.9,260.9 352.4,262.5 352.9,260.9 353.4,262.1 354.0,261.0 354.7,261.8 355.4,261.0 356.1,262.4 356.9,258.7 357.6,261.2 358.1,260.4 358.8,261.4 359.1,261.3 359.3,260.6 359.5,252.0 359.7,262.5 360.0,260.8 360.5,260.0 361.2,261.9 361.8,260.0 362.4,261.4 362.9,261.3 362.9,259.6 363.3,254.3 363.4,261.8 363.8,261.3 364.1,260.7 364.6,262.5 365.0,260.2 365.7,262.1 366.2,260.6 366.7,261.4 367.2,261.3 367.4,258.4 367.6,250.8 368.1,261.3 368.1,262.5 368.9,258.6 369.6,262.5 370.0,259.9 370.5,262.0 370.8,261.3 371.1,259.8 371.3,248.5 371.7,260.8 371.8,261.5 372.3,259.9 372.9,262.0 373.5,259.5 374.0,261.5 374.5,260.1 375.1,260.9 375.1,260.8 375.5,250.3 375.8,258.9 376.0,260.8 376.2,261.9" fill="none" stroke="#2f4f8f" stroke-width="1.5" stroke-linejoin="round" />
<polyline points="294.7,262.5 295.5,258.7 296.2,262.5 297.0,260.9 297.7,262.5 298.6,257.4 299.2,255.4 300.1,249.2 300.6,253.0 301.6,244.7 302.3,245.3 302.9,241.5 303.4,242.5 304.0,241.8 304.7,244.0 305.6,241.4 306.4,245.6 307.2,243.5 307.9,249.6 308.8,244.6 309.6,250.0 310.3,248.9 310.8,253.4 311.5,248.9 312.2,256.3 313.1,253.8 313.7,257.5 314.4,251.5 315.1,255.8 315.9,253.5 316.5,257.1 317.2,253.7 318.0,257.8 318.6,257.2 319.2,260.5 319.8,256.0 320.5,258.8 321.3,258.1 322.1,258.9 322.8,258.4 323.5,261.4 324.3,258.6 325.2,259.9 325.9,257.5 326.7,259.8 327.7,259.2 328.3,261.6 329.0,259.2 329.5,260.1 330.3,259.5 331.1,261.0 331.8,257.9 332.5,261.5 333.4,259.7 334.0,262.3 334.9,259.6 335.5,261.9 336.4,259.7 337.3,262.2 338.1,259.2 338.7,260.3 339.6,259.6 340.4,260.8 341.3,258.8 341.9,260.6 342.8,260.0 343.4,261.5 344.3,258.7 344.9,262.3 345.5,260.1 346.2,261.2 346.7,259.8 347.4,261.5 347.9,259.3 348.9,262.5 349.7,258.6 350.4,260.5 351.0,260.1 351.9,261.8 352.8,260.1 353.6,261.3 354.4,259.4 355.4,260.3 356.2,258.4 357.1,261.9 357.9,258.3 358.8,261.0 359.6,258.1 360.5,261.1 361.4,258.2 362.2,261.6 362.8,258.8 363.6,260.4 364.4,257.9 365.3,261.9 366.0,258.5 366.8,261.2 367.7,260.0 368.5,260.2 369.3,259.0 369.9,261.8 370.6,258.7 371.6,260.8 372.1,259.5 372.9,260.6 373.5,258.1 374.3,261.2 375.2,259.4 376.0,260.6" fill="none" stroke="#ad1038" stroke-width="1.15" stroke-linejoin="round" stroke-dasharray="0.9 0.9"/>
<polyline points="294.7,262.5 295.4,260.0 296.0,262.5 296.9,259.3 297.5,262.5 298.1,258.5 299.1,259.2 299.6,250.6 300.4,251.8 301.0,246.1 301.7,248.9 302.5,243.8 303.1,245.0 303.4,245.3 303.5,236.8 304.0,243.8 304.3,240.0 304.9,242.6 305.4,239.7 306.1,244.8 307.0,243.6 307.8,247.4 308.3,244.7 309.2,248.7 309.8,247.7 310.3,251.7 311.2,249.1 312.0,255.6 312.5,251.4 313.2,256.0 313.8,251.7 314.3,255.5 315.2,252.3 315.9,257.7 316.5,255.8 317.3,257.8 317.9,255.7 318.5,259.8 319.4,255.1 320.1,259.2 320.8,258.2 321.6,259.3 322.3,258.5 323.0,260.3 323.7,257.1 324.5,259.9 325.2,257.3 326.0,260.9 326.5,258.4 327.2,260.6 327.9,258.4 328.7,261.0 329.3,258.9 330.2,261.0 330.7,260.1 331.5,260.3 332.1,259.9 332.8,262.5 332.9,254.9 333.5,259.1 334.2,261.3 334.9,258.5 335.8,261.8 336.5,258.7 337.4,260.5 338.1,258.7 338.9,261.7 339.7,258.2 340.4,262.1 341.3,259.2 342.2,261.8 343.1,260.1 343.2,255.5 344.0,262.0 345.0,257.9 345.6,261.7 346.2,258.8 347.1,260.6 347.8,260.0 348.4,260.7 348.9,257.8 349.8,261.2 350.7,258.5 351.4,261.2 352.2,258.9 352.8,255.5 352.9,261.0 353.7,258.7 354.3,261.6 355.2,258.1 356.0,260.3 356.7,260.0 357.2,260.8 357.9,258.4 358.7,260.8 359.1,260.8 359.5,253.2 359.5,259.0 360.0,260.8 360.3,260.8 361.0,259.4 361.8,261.3 362.5,259.1 363.3,261.8 363.8,260.8 364.1,258.3 364.2,246.2 364.7,260.8 364.8,262.0 365.7,257.9 366.6,260.3 367.4,258.2 368.0,260.9 368.6,258.4 369.4,260.8 370.0,259.8 370.6,262.0 371.5,259.7 372.3,262.4 372.9,258.8 373.6,262.4 374.5,260.1 375.1,262.1 375.3,260.2 375.7,248.5 375.9,258.9 376.1,260.8" fill="none" stroke="#ad1038" stroke-width="1.3" stroke-linejoin="round" stroke-dasharray="3.3 1.5"/>
<line x1="294.70" y1="201.60" x2="294.70" y2="263.10" stroke="#111" stroke-width="1.2" />
<line x1="294.10" y1="262.50" x2="376.00" y2="262.50" stroke="#111" stroke-width="1.2" />
<line x1="291.50" y1="262.50" x2="294.70" y2="262.50" stroke="#111" stroke-width="1.0999999999999999" />
<text x="288.00" y="265.20" font-size="8.6" text-anchor="end" stroke-width="0.15" fill="#111" >0</text>
<line x1="291.50" y1="250.84" x2="294.70" y2="250.84" stroke="#111" stroke-width="1.0999999999999999" />
<text x="288.00" y="253.54" font-size="8.6" text-anchor="end" stroke-width="0.15" fill="#111" >2</text>
<line x1="291.50" y1="239.18" x2="294.70" y2="239.18" stroke="#111" stroke-width="1.0999999999999999" />
<text x="288.00" y="241.88" font-size="8.6" text-anchor="end" stroke-width="0.15" fill="#111" >4</text>
<line x1="291.50" y1="227.52" x2="294.70" y2="227.52" stroke="#111" stroke-width="1.0999999999999999" />
<text x="288.00" y="230.22" font-size="8.6" text-anchor="end" stroke-width="0.15" fill="#111" >6</text>
<line x1="291.50" y1="215.86" x2="294.70" y2="215.86" stroke="#111" stroke-width="1.0999999999999999" />
<text x="288.00" y="218.56" font-size="8.6" text-anchor="end" stroke-width="0.15" fill="#111" >8</text>
<line x1="291.50" y1="204.20" x2="294.70" y2="204.20" stroke="#111" stroke-width="1.0999999999999999" />
<text x="288.00" y="206.90" font-size="8.6" text-anchor="end" stroke-width="0.15" textLength="8.30" lengthAdjust="spacingAndGlyphs" fill="#111" >10</text>
<line x1="294.70" y1="262.50" x2="294.70" y2="265.70" stroke="#111" stroke-width="1.2" />
<text x="294.70" y="276.00" font-size="8.6" text-anchor="middle" stroke-width="0.15" fill="#111" >0</text>
<line x1="324.10" y1="262.50" x2="324.10" y2="265.70" stroke="#111" stroke-width="1.2" />
<text x="324.10" y="276.00" font-size="8.6" text-anchor="middle" stroke-width="0.15" fill="#111" >20</text>
<line x1="353.50" y1="262.50" x2="353.50" y2="265.70" stroke="#111" stroke-width="1.2" />
<text x="353.50" y="276.00" font-size="8.6" text-anchor="middle" stroke-width="0.15" fill="#111" >40</text>
<text x="336.00" y="289.00" font-size="10.0" text-anchor="middle" stroke-width="0.12" textLength="37.50" lengthAdjust="spacingAndGlyphs" fill="#111" >Time (min)</text>
<text x="275.00" y="231.50" font-size="9.5" text-anchor="middle" stroke-width="0.12" textLength="53.00" lengthAdjust="spacingAndGlyphs" transform="rotate(-90 275.00 231.50)" fill="#111" >Thrombin (nM)</text>
<line x1="296.10" y1="171.70" x2="311.00" y2="171.70" stroke="#ad1038" stroke-width="1.4" stroke-dasharray="3.3 2.45"/>
<text x="314.80" y="174.10" font-size="7.8" text-anchor="start" stroke-width="0.15" textLength="36.00" lengthAdjust="spacingAndGlyphs" fill="#111" ><tspan>F8</tspan><tspan font-size="5.46" dy="-3.12">-/-</tspan><tspan dy="3.12"> alone</tspan></text>
<line x1="295.50" y1="183.40" x2="312.30" y2="183.40" stroke="#ad1038" stroke-width="1.1" stroke-dasharray="0.9 0.85"/>
<text x="314.80" y="185.90" font-size="7.8" text-anchor="start" stroke-width="0.15" textLength="71.20" lengthAdjust="spacingAndGlyphs" fill="#111" ><tspan>F8</tspan><tspan font-size="5.46" dy="-3.12">-/-</tspan><tspan dy="3.12"> + Irrelevant IgG</tspan></text>
<line x1="296.40" y1="195.00" x2="311.50" y2="195.00" stroke="#2f4f8f" stroke-width="1.5" />
<text x="314.80" y="197.40" font-size="7.8" text-anchor="start" stroke-width="0.15" textLength="56.60" lengthAdjust="spacingAndGlyphs" fill="#111" ><tspan>F8</tspan><tspan font-size="5.46" dy="-3.12">-/-</tspan><tspan dy="3.12"> + anti-PN-1</tspan></text>
<line x1="424.70" y1="201.70" x2="424.70" y2="263.40" stroke="#111" stroke-width="1.2" />
<line x1="424.10" y1="262.80" x2="512.60" y2="262.80" stroke="#111" stroke-width="1.2" />
<line x1="421.50" y1="262.80" x2="424.70" y2="262.80" stroke="#111" stroke-width="1.0999999999999999" />
<text x="418.00" y="265.50" font-size="8.6" text-anchor="end" stroke-width="0.15" fill="#111" >0</text>
<line x1="421.50" y1="243.30" x2="424.70" y2="243.30" stroke="#111" stroke-width="1.0999999999999999" />
<text x="418.00" y="246.00" font-size="8.6" text-anchor="end" stroke-width="0.15" textLength="8.30" lengthAdjust="spacingAndGlyphs" fill="#111" >10</text>
<line x1="421.50" y1="223.80" x2="424.70" y2="223.80" stroke="#111" stroke-width="1.0999999999999999" />
<text x="418.00" y="226.50" font-size="8.6" text-anchor="end" stroke-width="0.15" fill="#111" >20</text>
<line x1="421.50" y1="204.30" x2="424.70" y2="204.30" stroke="#111" stroke-width="1.0999999999999999" />
<text x="418.00" y="207.00" font-size="8.6" text-anchor="end" stroke-width="0.15" fill="#111" >30</text>
<line x1="439.50" y1="262.80" x2="439.50" y2="266.00" stroke="#111" stroke-width="1.2" />
<line x1="468.90" y1="262.80" x2="468.90" y2="266.00" stroke="#111" stroke-width="1.2" />
<line x1="498.50" y1="262.80" x2="498.50" y2="266.00" stroke="#111" stroke-width="1.2" />
<text x="405.10" y="231.50" font-size="9.5" text-anchor="middle" stroke-width="0.12" textLength="35.00" lengthAdjust="spacingAndGlyphs" transform="rotate(-90 405.10 231.50)" fill="#111" >Peak (nM)</text>
<circle cx="439.70" cy="220.20" r="1.3" fill="#ad1038"/>
<circle cx="439.70" cy="236.10" r="1.3" fill="#ad1038"/>
<circle cx="439.70" cy="246.10" r="1.3" fill="#ad1038"/>
<circle cx="438.00" cy="251.90" r="1.3" fill="#ad1038"/>
<circle cx="432.30" cy="256.00" r="1.3" fill="#ad1038"/>
<circle cx="436.20" cy="256.20" r="1.3" fill="#ad1038"/>
<circle cx="443.20" cy="256.50" r="1.3" fill="#ad1038"/>
<circle cx="446.60" cy="256.20" r="1.3" fill="#ad1038"/>
<circle cx="439.70" cy="259.10" r="1.3" fill="#ad1038"/>
<rect x="467.45" y="219.15" width="2.7" height="2.7" fill="#ad1038"/>
<rect x="467.45" y="234.75" width="2.7" height="2.7" fill="#ad1038"/>
<rect x="467.45" y="243.05" width="2.7" height="2.7" fill="#ad1038"/>
<rect x="465.65" y="249.65" width="2.7" height="2.7" fill="#ad1038"/>
<rect x="469.45" y="252.55" width="2.7" height="2.7" fill="#ad1038"/>
<rect x="460.55" y="254.85" width="2.7" height="2.7" fill="#ad1038"/>
<rect x="463.95" y="255.15" width="2.7" height="2.7" fill="#ad1038"/>
<rect x="471.25" y="255.55" width="2.7" height="2.7" fill="#ad1038"/>
<rect x="474.65" y="254.85" width="2.7" height="2.7" fill="#ad1038"/>
<rect x="467.45" y="257.45" width="2.7" height="2.7" fill="#ad1038"/>
<polygon points="498.50,206.04 497.20,208.64 499.80,208.64" fill="#2f4f8f"/>
<polygon points="498.00,227.84 496.70,230.44 499.30,230.44" fill="#2f4f8f"/>
<polygon points="498.00,235.44 496.70,238.04 499.30,238.04" fill="#2f4f8f"/>
<polygon points="496.50,244.24 495.20,246.84 497.80,246.84" fill="#2f4f8f"/>
<polygon points="499.70,246.34 498.40,248.94 501.00,248.94" fill="#2f4f8f"/>
<polygon points="490.70,252.34 489.40,254.94 492.00,254.94" fill="#2f4f8f"/>
<polygon points="494.20,253.54 492.90,256.14 495.50,256.14" fill="#2f4f8f"/>
<polygon points="498.00,254.94 496.70,257.54 499.30,257.54" fill="#2f4f8f"/>
<polygon points="501.60,254.44 500.30,257.04 502.90,257.04" fill="#2f4f8f"/>
<polygon points="505.10,252.74 503.80,255.34 506.40,255.34" fill="#2f4f8f"/>
<line x1="429.70" y1="249.50" x2="449.50" y2="249.50" stroke="#111" stroke-width="1.3" />
<line x1="434.70" y1="245.50" x2="444.50" y2="245.50" stroke="#111" stroke-width="1.0" />
<line x1="434.70" y1="252.50" x2="444.50" y2="252.50" stroke="#111" stroke-width="1.0" />
<line x1="439.60" y1="245.50" x2="439.60" y2="252.50" stroke="#111" stroke-width="1.0" />
<line x1="459.00" y1="249.50" x2="478.80" y2="249.50" stroke="#111" stroke-width="1.3" />
<line x1="464.00" y1="245.50" x2="473.80" y2="245.50" stroke="#111" stroke-width="1.0" />
<line x1="464.00" y1="252.50" x2="473.80" y2="252.50" stroke="#111" stroke-width="1.0" />
<line x1="468.90" y1="245.50" x2="468.90" y2="252.50" stroke="#111" stroke-width="1.0" />
<line x1="488.40" y1="244.50" x2="508.20" y2="244.50" stroke="#111" stroke-width="1.3" />
<line x1="493.40" y1="239.50" x2="503.20" y2="239.50" stroke="#111" stroke-width="1.0" />
<line x1="493.40" y1="249.50" x2="503.20" y2="249.50" stroke="#111" stroke-width="1.0" />
<line x1="498.30" y1="239.50" x2="498.30" y2="249.50" stroke="#111" stroke-width="1.0" />
<line x1="438.50" y1="196.50" x2="499.80" y2="196.50" stroke="#222" stroke-width="1.0" />
<text x="469.20" y="196.50" font-size="8.0" text-anchor="middle" stroke-width="0.25" fill="#111" >*</text>
<line x1="472.90" y1="205.50" x2="499.80" y2="205.50" stroke="#222" stroke-width="1.0" />
<text x="486.50" y="205.70" font-size="8.0" text-anchor="middle" stroke-width="0.25" fill="#111" letter-spacing="0.6">**</text>
<text x="442.70" y="273.90" font-size="8.0" text-anchor="end" stroke-width="0.2" textLength="15.40" lengthAdjust="spacingAndGlyphs" transform="rotate(-45 442.70 273.90)" fill="#111" >PRP</text>
<text x="449.50" y="281.60" font-size="8.0" text-anchor="end" stroke-width="0.2" textLength="18.60" lengthAdjust="spacingAndGlyphs" transform="rotate(-45 449.50 281.60)" fill="#111" >alone</text>
<text x="472.10" y="273.90" font-size="8.0" text-anchor="end" stroke-width="0.2" textLength="15.40" lengthAdjust="spacingAndGlyphs" transform="rotate(-45 472.10 273.90)" fill="#111" >PRP</text>
<text x="478.90" y="281.60" font-size="8.0" text-anchor="end" stroke-width="0.2" textLength="53.50" lengthAdjust="spacingAndGlyphs" transform="rotate(-45 478.90 281.60)" fill="#111" >+irrelevant IgG</text>
<text x="501.70" y="273.90" font-size="8.0" text-anchor="end" stroke-width="0.2" textLength="15.40" lengthAdjust="spacingAndGlyphs" transform="rotate(-45 501.70 273.90)" fill="#111" >PRP</text>
<text x="508.50" y="281.60" font-size="8.0" text-anchor="end" stroke-width="0.2" textLength="38.00" lengthAdjust="spacingAndGlyphs" transform="rotate(-45 508.50 281.60)" fill="#111" >+anti-PN-1</text>
</svg>
</body>
</html>
